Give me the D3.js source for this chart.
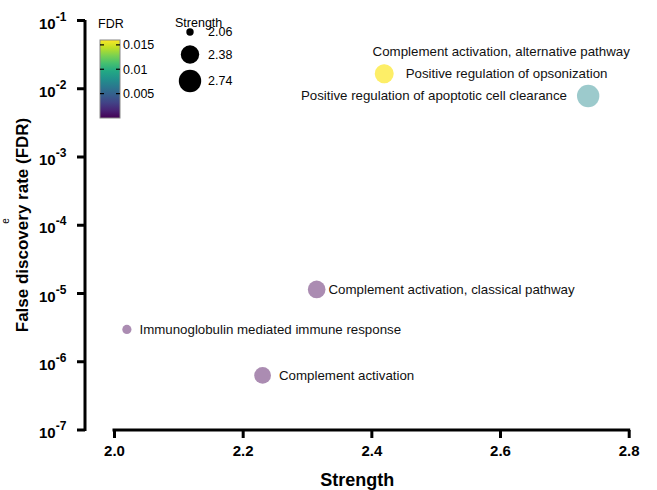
<!DOCTYPE html>
<html>
<head>
<meta charset="utf-8">
<script src="https://cdn.jsdelivr.net/npm/d3@7"></script>
<style>
  body { margin: 0; background: #fff; }
  svg { display: block; font-family: "Liberation Sans", Arial, sans-serif; }
</style>
</head>
<body>
<div id="vis"></div>
<script>
// GO terms (two terms share one point at 2.42)
let terms = [
    'Complement activation, alternative pathway',
    'Positive regulation of opsonization',
    'Positive regulation of apoptotic cell clearance',
    'Complement activation, classical pathway',
    'Immunoglobulin mediated immune response',
    'Complement activation'
];
let strength = [2.42, 2.42, 2.737, 2.315, 2.02, 2.231];
let fdr = [0.0163, 0.0163, 0.0077, 1.13e-5, 2.93e-6, 6.2e-7];
// where each label sits relative to its dot, and the gap to the dot
let labelSide = ['above', 'right', 'left', 'right', 'right', 'right'];
let labelGap = [0, 12, 10, 3, 8, 8];

let xTicks = [2.0, 2.2, 2.4, 2.6, 2.8];
let yTickExp = [-1, -2, -3, -4, -5, -6, -7];
let fdrTicks = [0.005, 0.01, 0.015];
let sizeLegend = [2.06, 2.38, 2.74];

let width = 657, height = 490;

let svg = d3.select('#vis')
    .append('svg')
    .attr('width', width)
    .attr('height', height);

let x = d3.scaleLinear().domain([2.0, 2.8]).range([114, 628.7]);
let y = d3.scaleLog().domain([1e-7, 1e-1]).range([429.5, 20]);
let r = d3.scaleLinear().domain([2.02, 2.2, 2.74]).range([4.6, 8.2, 11.2]);
let color = d3.scaleSequential(d3.interpolateViridis).domain([0, 0.0163]).clamp(true);

// y axis
let yAxis = svg.append('g')
    .attr('transform', 'translate(85,0)')
    .call(d3.axisLeft(y).tickValues(yTickExp.map(e => Math.pow(10, e))).tickSize(8).tickFormat(''));
yAxis.select('.domain').attr('d', 'M0,' + y(1e-1) + 'V' + (y(1e-7) + 1.5));
yAxis.selectAll('line, path').attr('stroke', '#000').attr('stroke-width', 3);
yAxis.selectAll('.tick').append('text')
    .attr('x', -46)
    .attr('y', 8)
    .attr('fill', '#000')
    .attr('text-anchor', 'start')
    .style('font-size', '15px')
    .style('font-weight', 'bold')
    .each(function(d) {
        let t = d3.select(this);
        t.append('tspan').text('10');
        t.append('tspan').attr('dy', -8).style('font-size', '12px').text(Math.round(Math.log10(d)));
    });

// x axis
let xAxis = svg.append('g')
    .attr('transform', 'translate(0,430)')
    .call(d3.axisBottom(x).tickValues(xTicks).tickSize(8).tickFormat(d3.format('.1f')));
xAxis.select('.domain').attr('d', 'M' + (x(2.0) - 1.5) + ',0H' + (x(2.8) + 1.5));
xAxis.selectAll('line, path').attr('stroke', '#000').attr('stroke-width', 3);
xAxis.selectAll('text')
    .attr('y', 15)
    .attr('dy', '0.71em')
    .attr('fill', '#000')
    .style('font-size', '15px')
    .style('font-weight', 'bold');

// axis titles
svg.append('text')
    .attr('x', x(2.4) - 14)
    .attr('y', 486)
    .attr('text-anchor', 'middle')
    .style('font-size', '18px')
    .style('font-weight', 'bold')
    .text('Strength');

svg.append('text')
    .attr('transform', 'translate(28,225) rotate(-90)')
    .attr('text-anchor', 'middle')
    .style('font-size', '17px')
    .style('font-weight', 'bold')
    .text('False discovery rate (FDR)');

// stray clipped glyph on the left edge
svg.append('text')
    .attr('transform', 'translate(9,221) rotate(-90)')
    .attr('text-anchor', 'middle')
    .style('font-size', '10px')
    .text('e');

// dots, semi transparent (the two terms at 2.42 stack up)
let data = terms.map((t, i) => ({term: t, s: strength[i], f: fdr[i], side: labelSide[i], gap: labelGap[i]}));

svg.selectAll('circle.dot')
    .data(data)
    .enter()
    .append('circle')
    .attr('class', 'dot')
    .attr('cx', d => x(d.s))
    .attr('cy', d => y(d.f))
    .attr('r', d => r(d.s))
    .attr('fill', d => color(d.f))
    .attr('fill-opacity', 0.45);

svg.selectAll('text.lab')
    .data(data)
    .enter()
    .append('text')
    .attr('class', 'lab')
    .attr('x', d => d.side == 'right' ? x(d.s) + r(d.s) + d.gap : d.side == 'left' ? x(d.s) - r(d.s) - d.gap : x(d.s) + 117)
    .attr('y', d => d.side == 'above' ? y(d.f) - 17.5 : y(d.f) + 4.5)
    .attr('text-anchor', d => d.side == 'right' ? 'start' : d.side == 'left' ? 'end' : 'middle')
    .style('font-size', '13.3px')
    .attr('fill', '#111')
    .text(d => d.term);

// FDR colour bar
let barY = d3.scaleLinear().domain([0, 0.016]).range([118, 40]);
svg.append('text')
    .attr('x', 98)
    .attr('y', 28)
    .style('font-size', '12.5px')
    .text('FDR');

let defs = svg.append('defs');
let grad = defs.append('linearGradient')
    .attr('id', 'fdrgrad')
    .attr('x1', 0).attr('y1', 1).attr('x2', 0).attr('y2', 0);
d3.range(0, 1.01, 0.1).forEach(t => {
    grad.append('stop').attr('offset', t).attr('stop-color', d3.interpolateViridis(t));
});
svg.append('rect')
    .attr('x', 100)
    .attr('y', barY(0.016))
    .attr('width', 20)
    .attr('height', barY(0) - barY(0.016))
    .attr('fill', 'url(#fdrgrad)')
    .attr('stroke', '#888')
    .attr('stroke-width', 1);

let barTicks = svg.selectAll('g.bt')
    .data(fdrTicks)
    .enter()
    .append('g')
    .attr('transform', d => 'translate(0,' + barY(d) + ')');
barTicks.append('line').attr('x1', 100).attr('x2', 104).attr('stroke', '#000').attr('stroke-width', 1.2);
barTicks.append('line').attr('x1', 116).attr('x2', 120).attr('stroke', '#000').attr('stroke-width', 1.2);
barTicks.append('text')
    .attr('x', 123)
    .attr('dy', '0.35em')
    .style('font-size', '12.5px')
    .text(d => d);

// Strength size legend
svg.append('text')
    .attr('x', 175)
    .attr('y', 27)
    .style('font-size', '12.5px')
    .text('Strength');

let sizeY = d3.scalePoint().domain(sizeLegend).range([32, 81]);
svg.selectAll('circle.leg')
    .data(sizeLegend)
    .enter()
    .append('circle')
    .attr('class', 'leg')
    .attr('cx', 190)
    .attr('cy', d => sizeY(d) + (d == 2.38 ? -2 : 0))
    .attr('r', d => d == 2.06 ? 3.7 : r(d))
    .attr('fill', '#000');
svg.selectAll('text.leg')
    .data(sizeLegend)
    .enter()
    .append('text')
    .attr('class', 'leg')
    .attr('x', 208)
    .attr('y', d => sizeY(d) + (d == 2.38 ? -2 : 0))
    .attr('dy', '0.35em')
    .style('font-size', '12.5px')
    .text(d => d.toFixed(2));
</script>
</body>
</html>
